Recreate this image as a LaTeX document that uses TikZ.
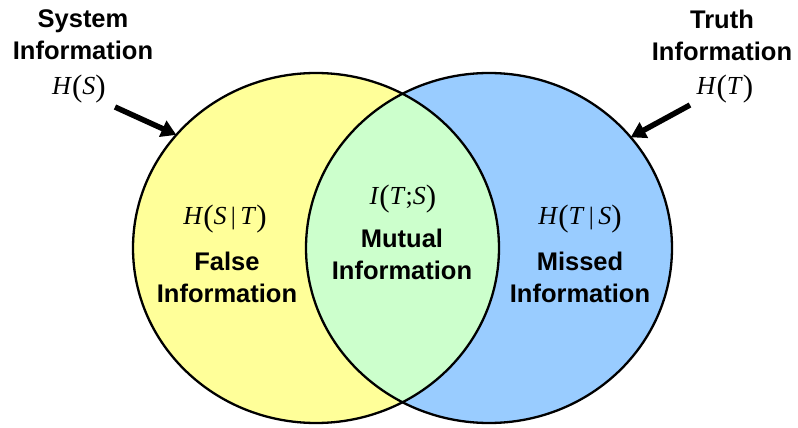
\documentclass[tikz,border=0pt]{standalone}
\usepackage{fontspec}
\setmainfont{Liberation Serif}
\setsansfont{Liberation Sans}
\usetikzlibrary{shapes.geometric,arrows.meta}
\definecolor{fyellow}{HTML}{FFFF99}
\definecolor{fblue}{HTML}{99CCFF}
\definecolor{fgreen}{HTML}{CCFFCC}
\newcommand{\lpar}{{\fontsize{31}{31}\selectfont\raisebox{-1.5pt}{(}}}
\newcommand{\rpar}{{\fontsize{31}{31}\selectfont\raisebox{-1.5pt}{)}}}
\newcommand{\vbar}{\,{\fontsize{25}{25}\selectfont|}\,}
\begin{document}
\begin{tikzpicture}[x=1pt,y=-1pt,
  setellipse/.style={ellipse, minimum width=366pt, minimum height=350pt, inner sep=0pt, outer sep=0pt},
  lbl/.style={font=\sffamily\bfseries\fontsize{25.5}{32}\selectfont, align=center, inner sep=0pt},
  mth/.style={font=\fontsize{26}{30}\selectfont, inner sep=0pt},
  bigarrow/.style={line width=5.5pt, -{Triangle[length=15pt,width=17pt]}}]
\useasboundingbox (0,0) rectangle (798,428);
% fills
\fill[fyellow] (316,248) ellipse [x radius=183pt, y radius=175pt];
\fill[fblue] (489,248) ellipse [x radius=183pt, y radius=175pt];
\begin{scope}
  \clip (316,248) ellipse [x radius=183pt, y radius=175pt];
  \fill[fgreen] (489,248) ellipse [x radius=183pt, y radius=175pt];
\end{scope}
% outlines
\node[setellipse, draw, line width=2.3pt] (S) at (316,248) {};
\node[setellipse, draw, line width=2.3pt] (T) at (489,248) {};
% top labels
\node[lbl] (sysinfo) at (83,35) {System\\Information};
\node[mth] (hs) at (79,89) {\textit{H}\lpar\textit{S}\rpar};
\node[lbl] (truthinfo) at (722,35) {Truth\\Information};
\node[mth] (ht) at (725,89) {\textit{H}\lpar\textit{T}\rpar};
% arrows
\coordinate (sa) at (115,107);
\coordinate (ta) at (690,105);
\draw[bigarrow] (sa) -- (S.141.5);
\draw[bigarrow] (ta) -- (T.38.5);
% region labels
\node[mth] (hst) at (225,219) {\textit{H}\lpar\textit{S}\vbar\textit{T}\rpar};
\node[lbl] (false) at (227,277) {False\\Information};
\node[mth] (its) at (403,199) {\textit{I}\lpar\textit{T};\textit{S}\rpar};
\node[lbl] (mutual) at (402,254) {Mutual\\Information};
\node[mth] (hts) at (580,219) {\textit{H}\lpar\textit{T}\vbar\textit{S}\rpar};
\node[lbl] (missed) at (580,277) {Missed\\Information};
\end{tikzpicture}
\end{document}
